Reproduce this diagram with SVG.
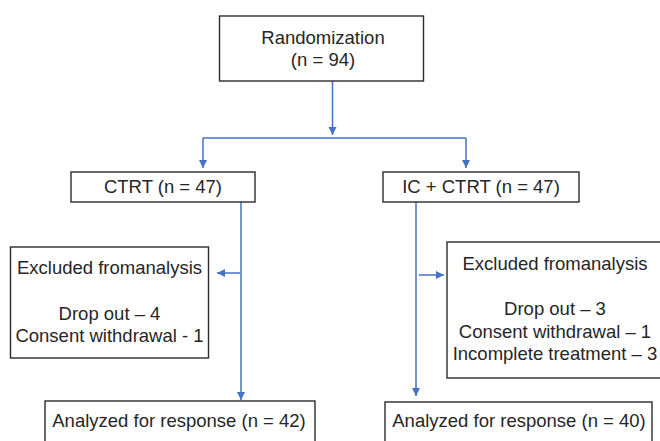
<svg xmlns="http://www.w3.org/2000/svg" width="660" height="441" viewBox="0 0 660 441">
  <style>
    .box { fill: #ffffff; stroke: #2b2b2b; stroke-width: 1.4; }
    .lbl { font-family: "Liberation Sans", Arial, sans-serif; font-size: 18.5px; fill: #262626; text-anchor: middle; }
    .conn { fill: none; stroke: #4472c4; stroke-width: 1.5; }
  </style>
  <defs>
    <marker id="arr" markerUnits="userSpaceOnUse" markerWidth="10" markerHeight="10" viewBox="0 0 10 10" refX="9" refY="5" orient="auto">
      <path d="M1,1 L9,5 L1,9 Z" fill="#4472c4"/>
    </marker>
  </defs>
  <rect width="660" height="441" fill="#ffffff"/>

  <g id="connectors">
    <line class="conn" x1="332.5" y1="81" x2="332.5" y2="135" marker-end="url(#arr)"/>
    <line class="conn" x1="203" y1="138" x2="466" y2="138"/>
    <line class="conn" x1="203" y1="138" x2="203" y2="168" marker-end="url(#arr)"/>
    <line class="conn" x1="466" y1="138" x2="466" y2="168" marker-end="url(#arr)"/>
    <line class="conn" x1="241" y1="202" x2="241" y2="400" marker-end="url(#arr)"/>
    <line class="conn" x1="240" y1="273" x2="217" y2="273" marker-end="url(#arr)"/>
    <line class="conn" x1="416" y1="202" x2="416" y2="396" marker-end="url(#arr)"/>
    <line class="conn" x1="419" y1="275" x2="444" y2="275" marker-end="url(#arr)"/>
  </g>

  <g id="randomization">
    <rect class="box" x="219.5" y="16" width="204" height="65"/>
    <text class="lbl" x="323" y="43.5">Randomization</text>
    <text class="lbl" x="323" y="66">(n = 94)</text>
  </g>

  <g id="ctrt">
    <rect class="box" x="71" y="172" width="184" height="30"/>
    <text class="lbl" x="163" y="193">CTRT (n = 47)</text>
  </g>

  <g id="ic-ctrt">
    <rect class="box" x="383" y="172" width="196" height="30"/>
    <text class="lbl" x="481" y="193">IC + CTRT (n = 47)</text>
  </g>

  <g id="excluded-left">
    <rect class="box" x="10.5" y="247" width="198" height="111"/>
    <text class="lbl" x="109.5" y="273.5">Excluded fromanalysis</text>
    <text class="lbl" x="109.5" y="320">Drop out – 4</text>
    <text class="lbl" x="109.5" y="342">Consent withdrawal - 1</text>
  </g>

  <g id="excluded-right">
    <rect class="box" x="447" y="242" width="230" height="136"/>
    <text class="lbl" x="555" y="270">Excluded fromanalysis</text>
    <text class="lbl" x="555" y="315">Drop out – 3</text>
    <text class="lbl" x="555" y="337.5">Consent withdrawal – 1</text>
    <text class="lbl" x="555" y="360">Incomplete treatment – 3</text>
  </g>

  <g id="analyzed-left">
    <rect class="box" x="45" y="401" width="270" height="50"/>
    <text class="lbl" x="179" y="427">Analyzed for response (n = 42)</text>
  </g>

  <g id="analyzed-right">
    <rect class="box" x="385" y="402" width="267" height="50"/>
    <text class="lbl" x="519" y="427">Analyzed for response (n = 40)</text>
  </g>
</svg>
